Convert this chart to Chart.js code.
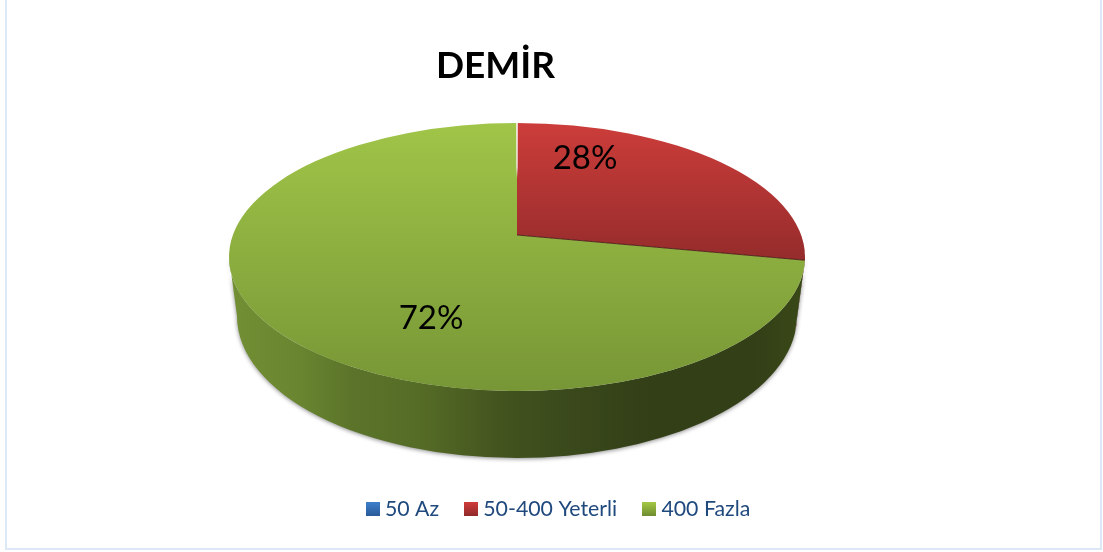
<!DOCTYPE html>
<html><head><meta charset="utf-8">
<style>html,body{margin:0;padding:0;background:#fff;overflow:hidden}canvas{display:block}</style>
<script src="https://cdn.jsdelivr.net/npm/chart.js@4"></script>
</head><body><canvas id="c" width="1103" height="552"></canvas>
<script>
const categories = ['50 Az', '50-400 Yeterli', '400 Fazla'];
const values = [0, 28, 72];
const chartTitle = 'DEMİR';

const FONT = 'Lato, Carlito, sans-serif';
// Face of the tilted disc and the perspective that maps the unit circle on it
const face = {vx: 517, vy: 235, cx: 517, cy: 257, rx: 288, ry: 134, d: 284, b: 91.8, c: -0.1642};
const base = {cx: 517, cy: 316, rx: 280, ry: 142};
const labelSpots = [null, {x: 585, y: 158}, {x: 431, y: 318}];
const faceStops = [null, ['#cc3d3a', '#8f2a2a'], ['#a0c548', '#779636']];
const markerStops = [['#3d7fcb', '#2a5a98'], ['#cf3c3a', '#8e2a2a'], ['#a3c944', '#6e8a2f']];

function project(a) {
  const x = Math.cos(a), y = Math.sin(a), w = 1 + face.c * y;
  return {x: face.vx + face.d * x / w, y: (face.vy + face.b * y) / w};
}
function param(a) {
  const p = project(a);
  return Math.atan2((p.y - face.cy) / face.ry, (p.x - face.cx) / face.rx);
}
function range(el) {
  const t1 = param(el.startAngle);
  let t2 = param(el.endAngle);
  while (t2 <= t1) t2 += Math.PI * 2;
  return [t1, t2];
}
function marker(i) {
  const cv = document.createElement('canvas');
  cv.width = 14; cv.height = 14;
  const g = cv.getContext('2d');
  const lg = g.createLinearGradient(0, 0, 0, 14);
  lg.addColorStop(0, markerStops[i][0]); lg.addColorStop(1, markerStops[i][1]);
  g.fillStyle = lg; g.fillRect(0, 0, 14, 14);
  return cv;
}

const disc = {
  id: 'disc',
  beforeDraw(chart) {
    const ctx = chart.ctx;
    ctx.save();
    ctx.fillStyle = '#dce8f6';
    ctx.fillRect(5, 0, 2, 549);
    ctx.fillRect(1100, 0, 2, 549);
    ctx.fillRect(5, 548, 1097, 2);
    ctx.restore();
    const t = chart.titleBlock;
    t.right = t.left + 2 * (495.5 - t.left);
  },
  beforeDatasetsDraw(chart) {
    const ctx = chart.ctx;
    const arcs = chart.getDatasetMeta(0).data;
    const wallGreen = ctx.createLinearGradient(232, 0, 800, 0);
    [[0, '#728f34'], [.12, '#698530'], [.21, '#5b742a'], [.33, '#556c26'], [.47, '#44541f'], [.52, '#3f4f1d'], [.65, '#37451a'], [.74, '#333f17'], [.92, '#333f17'], [1, '#394817']]
      .forEach(s => wallGreen.addColorStop(s[0], s[1]));
    const wallFill = [null, '#7c2222', wallGreen];

    // side walls: only the part of each slice's rim that faces the viewer
    arcs.forEach((el, i) => {
      if (!values[i]) return;
      let [t1, t2] = range(el);
      if (i === 1) t1 = 0;
      if (i === 2) t2 = Math.PI;
      const b2 = i === 1 ? t2 + 0.1 : t2;
      const b1 = i === 2 ? t1 + 0.1 : t1;
      ctx.save();
      ctx.shadowColor = 'rgba(0,0,0,.45)';
      ctx.shadowBlur = 4;
      ctx.shadowOffsetY = 1;
      ctx.beginPath();
      ctx.ellipse(face.cx, face.cy, face.rx, face.ry, 0, t1, t2, false);
      ctx.ellipse(base.cx, base.cy, base.rx, base.ry, 0, b2, b1, true);
      ctx.closePath();
      ctx.fillStyle = wallFill[i];
      ctx.fill();
      ctx.restore();
    });

    // top faces
    arcs.forEach((el, i) => {
      if (!values[i]) return;
      const [t1, t2] = range(el);
      const bottom = i === 1 ? 275 : face.cy + face.ry;
      const g = ctx.createLinearGradient(0, face.cy - face.ry, 0, bottom);
      g.addColorStop(0, faceStops[i][0]); g.addColorStop(1, faceStops[i][1]);
      ctx.beginPath();
      ctx.moveTo(face.vx, face.vy);
      ctx.ellipse(face.cx, face.cy, face.rx, face.ry, 0, t1, t2, false);
      ctx.closePath();
      ctx.fillStyle = g;
      ctx.fill();
    });

    // seams between slices
    const red = arcs[1];
    const e = project(red.endAngle), s = project(red.startAngle);
    ctx.save();
    ctx.strokeStyle = 'rgba(70,20,20,.85)';
    ctx.lineWidth = 1;
    ctx.beginPath(); ctx.moveTo(face.vx, face.vy); ctx.lineTo(e.x, e.y); ctx.stroke();
    const sg = ctx.createLinearGradient(0, s.y, 0, s.y + 55);
    sg.addColorStop(0, 'rgba(255,255,255,1)');
    sg.addColorStop(.8, 'rgba(255,255,255,.8)');
    sg.addColorStop(1, 'rgba(255,255,255,0)');
    ctx.strokeStyle = sg;
    ctx.lineWidth = 1.5;
    ctx.beginPath(); ctx.moveTo(s.x, s.y); ctx.lineTo(s.x, s.y + 55); ctx.stroke();

    // value labels
    ctx.fillStyle = '#000';
    ctx.font = '33px ' + FONT;
    ctx.textAlign = 'center';
    ctx.textBaseline = 'middle';
    const total = values.reduce((a, b) => a + b, 0);
    values.forEach((v, i) => {
      if (v) ctx.fillText(Math.round(v / total * 100) + '%', labelSpots[i].x, labelSpots[i].y);
    });
    ctx.restore();
    return false;
  }
};

new Chart(document.getElementById('c'), {
  type: 'pie',
  data: {labels: categories, datasets: [{data: values, backgroundColor: ['#3d7fcb', '#c0393a', '#8eb03e'], borderWidth: 0}]},
  options: {
    responsive: false,
    animation: false,
    events: [],
    layout: {padding: {left: 18, top: 0, right: 0, bottom: 22}},
    plugins: {
      tooltip: {enabled: false},
      title: {display: true, text: chartTitle, color: '#000', font: {family: FONT, size: 37, weight: 'bold'}, padding: {top: 44, bottom: 0}},
      legend: {
        position: 'bottom',
        labels: {
          usePointStyle: true, pointStyleWidth: 3.5, boxHeight: 14, padding: 30,
          color: '#1f497d', font: {family: FONT, size: 21.3},
          generateLabels: () => categories.map((c, i) => ({text: c, pointStyle: marker(i), index: i, hidden: false, lineWidth: 0, fontColor: '#1f497d'}))
        }
      }
    }
  },
  plugins: [disc]
});
</script></body></html>
